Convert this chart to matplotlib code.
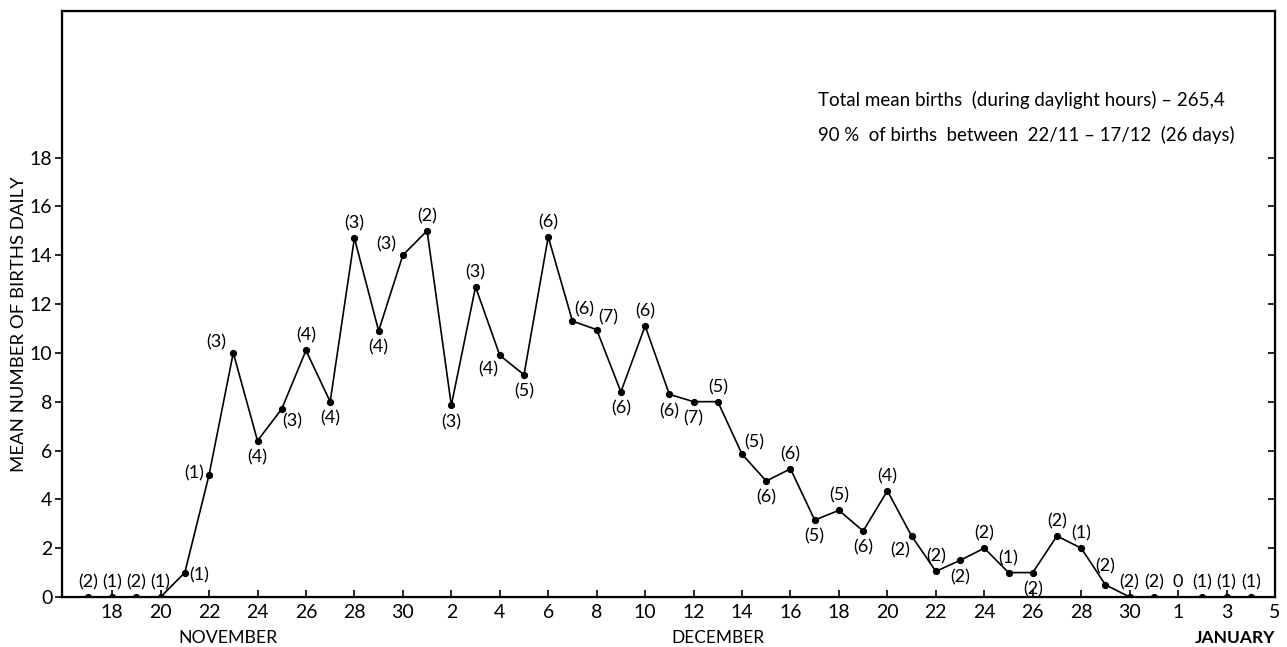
import numpy as np
import matplotlib
matplotlib.use("Agg")
import matplotlib.pyplot as plt
import matplotlib.transforms as mtransforms

# data: one value per day, Nov 17 .. Jan 4 (Jan 1 has no observations)
days = np.arange(49)
births = [0, 0, 0, 0, 1.0, 5.0, 10.0, 6.4, 7.7, 10.1, 8.0, 14.7, 10.9, 14.0,
          15.0, 7.85, 12.7, 9.9, 9.1, 14.75, 11.3, 10.95, 8.4, 11.1, 8.3, 8.0, 8.0,
          5.85, 4.75, 5.25, 3.15, 3.55, 2.7, 4.35, 2.5, 1.05, 1.5, 2.0, 1.0, 1.0,
          2.5, 2.0, 0.5, 0, 0, np.nan, 0, 0, 0]
n_obs = ["(2)", "(1)", "(2)", "(1)", "(1)", "(1)", "(3)", "(4)", "(3)", "(4)",
         "(4)", "(3)", "(4)", "(3)",
         "(2)", "(3)", "(3)", "(4)", "(5)", "(6)", "(6)", "(7)", "(6)", "(6)",
         "(6)", "(7)", "(5)", "(5)", "(6)", "(6)", "(5)", "(5)", "(6)", "(4)",
         "(2)", "(2)", "(2)", "(2)", "(1)", "(2)", "(2)", "(1)", "(2)", "(2)",
         "(2)", "0", "(1)", "(1)", "(1)"]
label_pos = ["a", "a", "a", "a", "r", "l", "ul", "b", "lr", "a", "b", "a", "b", "ul",
             "a", "b", "a", "ll", "b", "a", "ur", "ur", "b", "a", "b", "b", "a",
             "ur", "b", "a", "b", "a", "b", "a", "ll", "a", "b", "a", "a", "b",
             "a", "a", "au", "a", "a", "a", "a", "a", "a"]

tick_days = list(range(1, 44, 2)) + [45, 47, 49]
tick_labels = ["18", "20", "22", "24", "26", "28", "30",
               "2", "4", "6", "8", "10", "12", "14", "16", "18", "20", "22",
               "24", "26", "28", "30", "1", "3", "5"]
months = ["NOVEMBER", "DECEMBER", "JANUARY"]
note_lines = ["Total mean births  (during daylight hours) \u2013 265,4",
              "90 %  of births  between  22/11 \u2013 17/12  (26 days)"]

offsets = {"a": (0, 10.5), "b": (0, -12), "l": (-11, 1), "r": (10.5, -2),
           "ul": (-12, 7.5), "ur": (8.5, 8.5), "ll": (-8, -10.5), "lr": (7.5, -9),
           "au": (0, 13)}

plt.rcParams["font.family"] = ["Lato", "DejaVu Sans"]

fig = plt.figure(figsize=(12.87, 6.47), dpi=100)
ax = fig.add_axes([62 / 1287, 1 - 597 / 647, (1275 - 62) / 1287, (597 - 11) / 647])

ax.plot(days, births, color="black", lw=1.2, marker="o", ms=4.2, zorder=3)

for d, v, lab, p in zip(days, births, n_obs, label_pos):
    y = 0 if np.isnan(v) else v
    dx, dy = offsets[p]
    ax.annotate(lab, (d, y), xytext=(dx, dy), textcoords="offset points",
                ha="center", va="center", fontsize=13)

ax.set_xlim(-1.07, 49)
ax.set_ylim(0, 24)
ax.set_yticks(range(0, 20, 2))
ax.set_xticks(tick_days)
ax.set_xticklabels(tick_labels, fontsize=14)
ax.tick_params(axis="x", direction="in", length=5, width=1.2, pad=5)
ax.tick_params(axis="y", direction="out", length=5, width=1.2, labelsize=14, pad=2)
for s in ax.spines.values():
    s.set_linewidth(1.6)

# unlabelled inward ticks on the right spine
ax2 = ax.twinx()
ax2.set_ylim(0, 24)
ax2.set_yticks(range(0, 20, 2))
ax2.set_yticklabels([])
ax2.tick_params(axis="y", direction="in", length=5, width=1.2)

ax.set_ylabel("MEAN NUMBER OF BIRTHS DAILY", fontsize=13.3)
ax.yaxis.set_label_coords(-0.029, 0.465)

trans = mtransforms.blended_transform_factory(ax.transData, fig.transFigure)
ax.text(5.8, 1 - 638 / 647, months[0], transform=trans, ha="center", va="center", fontsize=12.8)
ax.text(26.0, 1 - 638 / 647, months[1], transform=trans, ha="center", va="center", fontsize=12.4)
ax.text(49.0, 1 - 638 / 647, months[2], transform=trans, ha="right", va="center",
        fontsize=12.5, fontweight="bold")

fig.text(818 / 1287, 1 - 100 / 647, note_lines[0], ha="left", va="center", fontsize=13.5)
fig.text(818 / 1287, 1 - 135 / 647, note_lines[1], ha="left", va="center", fontsize=13.4)

fig.savefig("out.png", dpi=100, facecolor="white")
